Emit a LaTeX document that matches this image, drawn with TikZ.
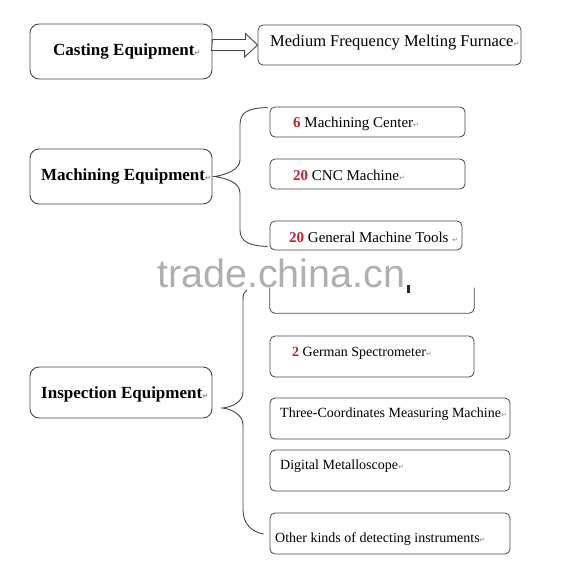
\documentclass[tikz,border=0pt]{standalone}
\usepackage{fontspec}
\setmainfont{Liberation Serif}
\newfontfamily\dejavu{DejaVu Sans}
\newfontfamily\wmfont{Liberation Sans}
\usetikzlibrary{calc}
\definecolor{numred}{RGB}{200,30,40}
\definecolor{edge}{RGB}{70,70,70}
\definecolor{wmgray}{RGB}{175,175,175}
\newcommand\retmk{{\dejavu\fontsize{7}{7}\selectfont\textcolor{gray}{↵}}}
\newcommand\rn[1]{\textbf{\textcolor{numred}{#1}}}
\begin{document}
\begin{tikzpicture}[x=1pt,y=-1pt,
  bigbox/.style={draw=edge, line width=0.9pt, rounded corners=9pt, minimum width=182pt, inner sep=0pt},
  smallbox/.style={draw=edge, line width=0.8pt, rounded corners=5pt, inner sep=0pt},
  headtxt/.style={font=\fontsize{17}{17}\selectfont\bfseries, anchor=west, inner sep=0pt},
  itemtxt/.style={font=\fontsize{15}{15}\selectfont, anchor=west, inner sep=0pt},
  itemtxts/.style={font=\fontsize{14}{14}\selectfont, anchor=west, inner sep=0pt},
  brace/.style={draw=edge, line width=0.9pt},
  blockarrow/.style={draw=edge, line width=0.9pt, fill=white, line join=miter},
]
\useasboundingbox (0,0) rectangle (562,573);
% boxes
\node[bigbox, minimum height=55pt] (cast) at (121,51.5) {};
\node[smallbox, minimum width=263pt, minimum height=40pt] (furn) at (389.5,45) {};
\node[bigbox, minimum height=55pt] (mach) at (121,176.5) {};
\node[smallbox, minimum width=195pt, minimum height=30pt] (mc) at (367.5,122) {};
\node[smallbox, minimum width=195pt, minimum height=30pt] (cnc) at (367.5,174) {};
\node[smallbox, minimum width=192pt, minimum height=29pt] (gmt) at (366,235.5) {};
\node[inner sep=0pt, minimum width=204pt, minimum height=51pt] (hid) at (372,287.5) {};
\draw[draw=edge, line width=0.8pt, rounded corners=5pt] (hid.west) -- (hid.south west) -- (hid.south east) -- (hid.east);
\node[bigbox, minimum height=51pt] (insp) at (121,392.5) {};
\node[smallbox, minimum width=204pt, minimum height=41pt] (spec) at (372,356.5) {};
\node[smallbox, minimum width=240pt, minimum height=41pt] (cmm) at (390,418.5) {};
\node[smallbox, minimum width=240pt, minimum height=41pt] (dm) at (390,470.5) {};
\node[smallbox, minimum width=240pt, minimum height=41pt] (oth) at (390,533.5) {};
% texts
\node[headtxt] (castT) at (53,51.5) {Casting Equipment\retmk};
\node[anchor=west, inner sep=0pt, font=\fontsize{16.5}{16.5}\selectfont] (furnT) at (270,42.5) {Medium Frequency Melting Furnace\retmk};
\node[headtxt] (machT) at (41,176.5) {Machining Equipment\retmk};
\node[headtxt] (inspT) at (41,394.5) {Inspection Equipment\retmk};
\node[itemtxt] (mcT) at (293,123.5) {\rn{6} Machining Center\retmk};
\node[itemtxt] (cncT) at (293,175.5) {\rn{20} CNC Machine\retmk};
\node[itemtxt] (gmtT) at (289,237.5) {\rn{20} General Machine Tools \retmk};
\node[itemtxts] (specT) at (292,353.5) {\rn{2} German Spectrometer\retmk};
\node[itemtxts] (cmmT) at (280,414.5) {Three-Coordinates Measuring Machine\retmk};
\node[itemtxts] (dmT) at (280,466.5) {Digital Metalloscope\retmk};
\node[itemtxts] (othT) at (275,539.5) {Other kinds of detecting instruments\retmk};
% block arrow
\coordinate (ars) at (cast.east |- furn.west);
\coordinate (are) at (furn.west);
\draw[blockarrow] ($(ars)+(0,-5.5)$) -- ++(33,0) -- ++(0,-6) -- (are) -- ++(-13,12) -- ++(0,-6.5) -- ++(-33,0) -- cycle;
% machining brace
\coordinate (mtip) at ($(mach.east)+(2,0)$);
\coordinate (mtop) at ($(mc.north west)+(-2,1)$);
\coordinate (mbot) at ($(gmt.south west)+(-2,-4)$);
\draw[brace] (mtop) .. controls (248,108) and (240,112) .. (240,125) -- (240,160)
  .. controls (240,170) and (225,175) .. (mtip)
  .. controls (225,178) and (240,182) .. (240,193) -- (240,230)
  .. controls (240,242) and (250,246) .. (mbot);
% inspection brace
\coordinate (itip) at ($(insp.east)+(10,15.5)$);
\coordinate (itop) at (247,290);
\coordinate (ibot) at ($(oth.west)+(-6,0.5)$);
\draw[brace] (itop) .. controls (244,292) and (243,294) .. (243,300) -- (243,392)
  .. controls (243,402) and (232,407) .. (itip)
  .. controls (232,409) and (243,415) .. (243,425) -- (243,510)
  .. controls (243,524) and (252,532) .. (ibot);
% remnant mark and watermark
\fill[black!85] (407,285) rectangle (409.5,293);
\node[anchor=west, inner sep=0pt, text=wmgray, font=\wmfont\fontsize{39.5}{39.5}\selectfont] (wm) at (157,273) {trade.china.cn};
\end{tikzpicture}
\end{document}
